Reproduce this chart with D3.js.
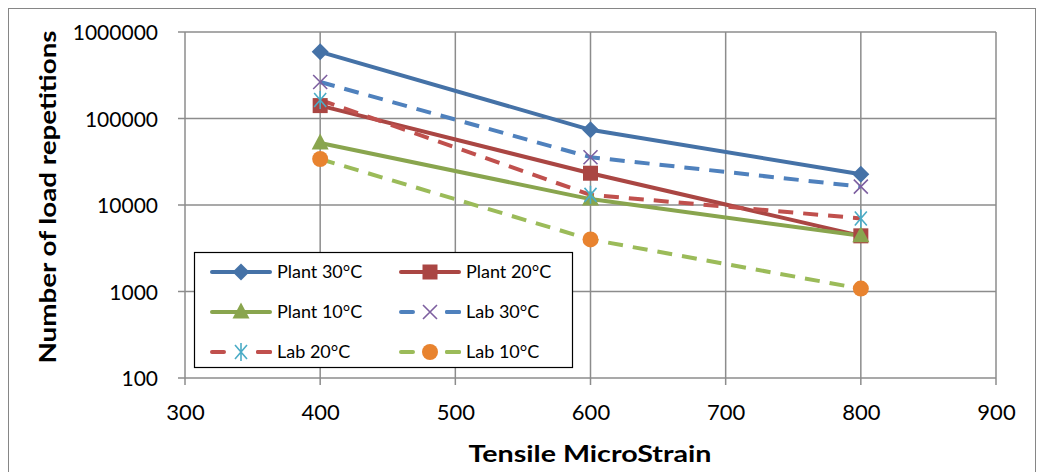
<!DOCTYPE html>
<html>
<head>
<meta charset="utf-8">
<script src="https://cdn.jsdelivr.net/npm/d3@7"></script>
<style>
body { margin: 0; background: #fff; }
svg { display: block; font-family: Lato, "Open Sans", sans-serif; }
</style>
</head>
<body>
<svg id="chart" width="1041" height="472"></svg>
<script>
// strain levels
const strains = [400, 600, 800];

// number of load repetitions per series
const plant30 = [590000, 74000, 22700];
const plant20 = [141000, 23300, 4400];
const plant10 = [52000, 11700, 4400];
const lab30 = [264000, 35700, 16300];
const lab20 = [164000, 13100, 7000];
const lab10 = [34000, 4000, 1080];

const seriesNames = ['Plant 30°C', 'Plant 20°C', 'Plant 10°C', 'Lab 30°C', 'Lab 20°C', 'Lab 10°C'];

const xTicks = [300, 400, 500, 600, 700, 800, 900];
const yTicks = [100, 1000, 10000, 100000, 1000000];

const series = [
    { name: seriesNames[0], values: plant30, line: '#4572A7', marker: 'diamond', mcol: '#4572A7', dash: null },
    { name: seriesNames[1], values: plant20, line: '#AA4643', marker: 'square', mcol: '#AA4643', dash: null },
    { name: seriesNames[2], values: plant10, line: '#89A54E', marker: 'triangle', mcol: '#89A54E', dash: null },
    { name: seriesNames[3], values: lab30, line: '#4F81BD', marker: 'x', mcol: '#7D5FA0', dash: '15,10' },
    { name: seriesNames[4], values: lab20, line: '#C0504D', marker: 'star', mcol: '#4BACC6', dash: '15,10' },
    { name: seriesNames[5], values: lab10, line: '#9BBB59', marker: 'circle', mcol: '#E8832F', dash: '15,10' }
];

const svg = d3.select('#chart');

// outer chart border
svg.append('rect')
    .attr('x', 8.5).attr('y', 8.5)
    .attr('width', 1027).attr('height', 470)
    .attr('fill', 'none').attr('stroke', '#868686').attr('stroke-width', 1);

const x = d3.scaleLinear().domain([300, 900]).range([185, 996]);
const y = d3.scaleLog().domain([100, 1000000]).range([378, 32]);

const grid = svg.append('g');
grid.selectAll('.hg')
    .data(yTicks)
    .enter().append('line')
    .attr('x1', 178).attr('x2', 996)
    .attr('y1', d => y(d)).attr('y2', d => y(d))
    .attr('stroke', '#8c8c8c').attr('stroke-width', 1.5);

grid.selectAll('.vg')
    .data(xTicks)
    .enter().append('line')
    .attr('x1', d => x(d)).attr('x2', d => x(d))
    .attr('y1', 32).attr('y2', 385)
    .attr('stroke', '#8c8c8c').attr('stroke-width', 1.5);

// tick labels
const xAxis = d3.axisBottom(x).tickValues(xTicks).tickSize(0).tickPadding(0);
const gx = svg.append('g').attr('transform', 'translate(0,378)').call(xAxis);
gx.select('.domain').remove();
gx.selectAll('text')
    .attr('y', 42).attr('dy', null)
    .attr('font-size', 22).attr('fill', '#000')
    .attr('font-family', 'Lato, "Open Sans", sans-serif');

const yAxis = d3.axisLeft(y).tickValues(yTicks).tickFormat(d3.format('d')).tickSize(0).tickPadding(0);
const gy = svg.append('g').attr('transform', 'translate(0,0)').call(yAxis);
gy.select('.domain').remove();
gy.selectAll('text')
    .attr('x', 158).attr('dy', '0.36em')
    .attr('font-size', 21).attr('fill', '#000')
    .attr('font-family', 'Lato, "Open Sans", sans-serif');

// axis titles
svg.append('text')
    .attr('x', 590).attr('y', 462)
    .attr('text-anchor', 'middle')
    .attr('font-size', 23.5).attr('font-weight', 'bold')
    .attr('textLength', 243).attr('lengthAdjust', 'spacingAndGlyphs')
    .text('Tensile MicroStrain');

svg.append('text')
    .attr('transform', 'translate(56,197) rotate(-90)')
    .attr('text-anchor', 'middle')
    .attr('font-size', 22).attr('font-weight', 'bold')
    .attr('textLength', 333).attr('lengthAdjust', 'spacingAndGlyphs')
    .text('Number of load repetitions');

function drawMarker(g, type, color) {
    if (type === 'diamond') {
        g.append('path').attr('d', 'M0,-8.5L8.5,0L0,8.5L-8.5,0Z').attr('fill', color);
    } else if (type === 'square') {
        g.append('rect').attr('x', -7.5).attr('y', -7.5).attr('width', 15).attr('height', 15).attr('fill', color);
    } else if (type === 'triangle') {
        g.append('path').attr('d', 'M0,-9.5L8.5,6.5L-8.5,6.5Z').attr('fill', color);
    } else if (type === 'x') {
        g.append('path').attr('d', 'M-7,-7L7,7M-7,7L7,-7').attr('stroke', color).attr('stroke-width', 1.6).attr('fill', 'none');
    } else if (type === 'star') {
        g.append('path').attr('d', 'M-6,-7L6,7M-6,7L6,-7M0,-9V9').attr('stroke', color).attr('stroke-width', 1.6).attr('fill', 'none');
    } else if (type === 'circle') {
        g.append('circle').attr('r', 8).attr('fill', color);
    }
}

const line = d3.line()
    .x((d, i) => x(strains[i]))
    .y(d => y(d));

const plot = svg.append('g');
series.forEach(s => {
    plot.append('path')
        .datum(s.values)
        .attr('d', line)
        .attr('fill', 'none')
        .attr('stroke', s.line)
        .attr('stroke-width', 4)
        .attr('stroke-dasharray', s.dash)
        .attr('stroke-linejoin', 'round');
});
series.forEach(s => {
    s.values.forEach((v, i) => {
        const g = plot.append('g').attr('transform', `translate(${x(strains[i])},${y(v)})`);
        drawMarker(g, s.marker, s.mcol);
    });
});

// legend
const legend = svg.append('g');
legend.append('rect')
    .attr('x', 194.5).attr('y', 252.5)
    .attr('width', 378).attr('height', 115)
    .attr('fill', '#fff').attr('stroke', '#000').attr('stroke-width', 1.2);

const legendRows = [272, 312, 352];
const legendCols = [212, 401];
series.forEach((s, i) => {
    const lx = legendCols[i % 2];
    const ly = legendRows[Math.floor(i / 2)];
    const g = legend.append('g').attr('transform', `translate(${lx},${ly})`);
    g.append('line')
        .attr('x1', 0).attr('x2', 58)
        .attr('stroke', s.line).attr('stroke-width', 4)
        .attr('stroke-linecap', 'round')
        .attr('stroke-dasharray', s.dash ? '12,34' : null);
    if (s.dash) {
        g.append('line').attr('x1', 46).attr('x2', 58)
            .attr('stroke', s.line).attr('stroke-width', 4).attr('stroke-linecap', 'round');
    }
    const m = g.append('g').attr('transform', 'translate(29,0)');
    drawMarker(m, s.marker, s.mcol);
    g.append('text')
        .attr('x', 65).attr('dy', '0.36em')
        .attr('font-size', 18)
        .text(s.name);
});
</script>
</body>
</html>
